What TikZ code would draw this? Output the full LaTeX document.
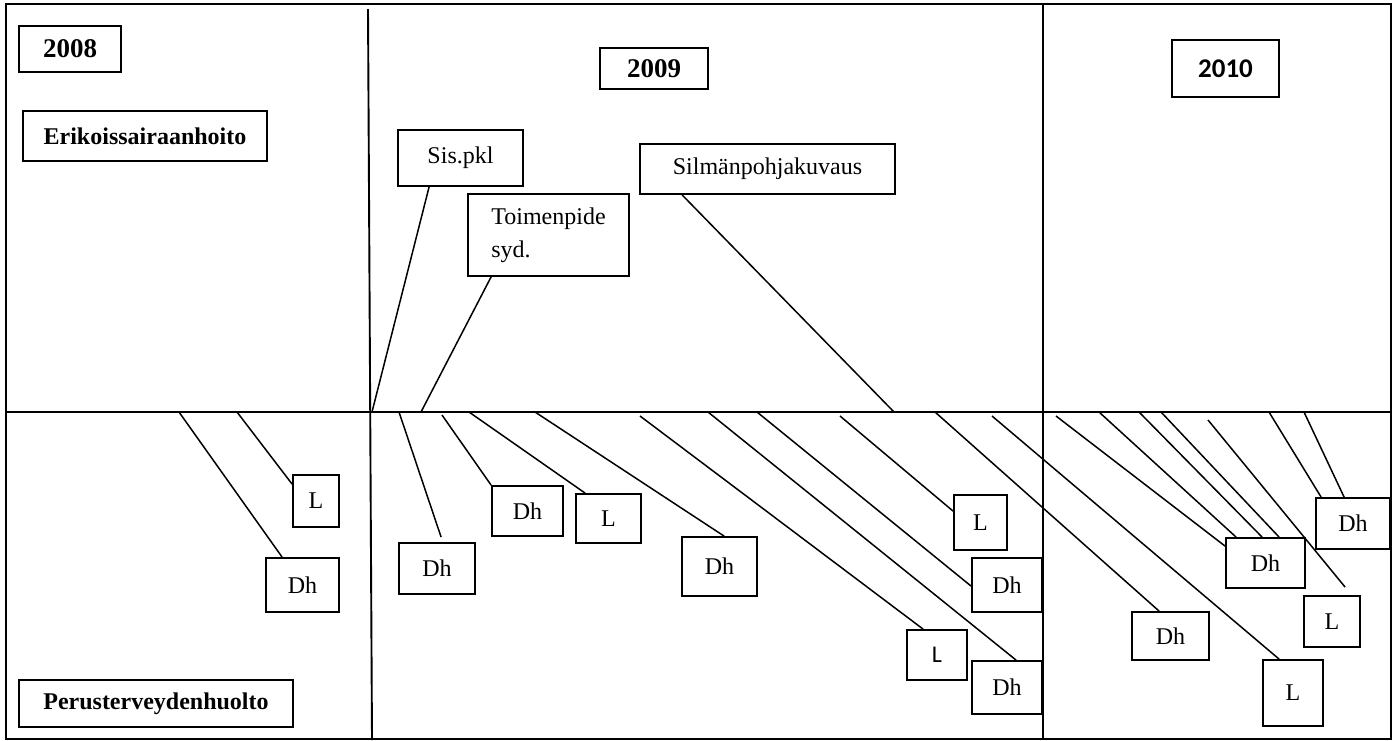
\documentclass[tikz,border=0pt]{standalone}
\usepackage{fontspec}
\setmainfont{Liberation Serif}
\newfontfamily\calib{Carlito}
\newcommand\bx[7][]{\node[box,minimum width={#5-#3},minimum height={#6-#4},#1] (#2) at ({(#3+#5)/2},{(#4+#6)/2}) {#7};}
\begin{document}
\begin{tikzpicture}[x=1pt,y=-1pt,line width=1.5pt,
  box/.style={draw,line width=1.8pt,inner sep=0pt,font=\fontsize{24}{33}\selectfont},
  yr/.style={font=\fontsize{27}{32}\selectfont\bfseries},
  yrc/.style={font=\fontsize{27}{32}\selectfont\calib\bfseries},
  hd/.style={font=\fontsize{24}{29}\selectfont\bfseries},
  cal/.style={font=\fontsize{24}{28}\selectfont\calib},
  link/.style={line width=1.5pt},
  frame/.style={line width=1.9pt}]
\useasboundingbox (0,0) rectangle (1400,740);
% frame and grid
\draw[frame] (6,4) rectangle (1391,739);
\draw[frame] (6,412) -- (1391,412);
\draw[frame] (368,9) -- (372,740);
\draw[frame] (1043,4) -- (1043,740);
% header boxes
\bx[yr]{y08}{19}{26}{121}{72}{2008}
\bx[yr]{y09}{600}{48}{708}{89}{2009}
\bx[yrc]{y10}{1172}{40}{1279}{97}{2010}
\bx[hd]{eri}{23}{111}{267}{161}{Erikoissairaanhoito}
\bx[hd]{per}{19}{680}{293}{727}{Perusterveydenhuolto}
\bx{sis}{398}{130}{523}{186}{Sis.pkl\hspace{16pt}}
\bx[align=left]{toi}{468}{194}{629}{276}{Toimenpide\\syd.}
\bx{sil}{640}{144}{895}{194}{Silmänpohjakuvaus\hspace{26pt}}
% lower boxes
\bx{a1}{293}{475}{339}{527}{L}
\bx{a2}{266}{558}{339}{612}{Dh}
\bx{b1}{399}{543}{475}{594}{Dh}
\bx{b2}{492}{486}{563}{536}{Dh}
\bx{b3}{576}{494}{641}{543}{L}
\bx{b4}{682}{537}{757}{596}{Dh}
\bx[cal]{b5}{907}{630}{967}{680}{L}
\bx{b6}{972}{661}{1042}{714}{Dh}
\bx{b7}{972}{558}{1042}{612}{Dh}
\bx{b8}{954}{495}{1007}{550}{L}
\bx{c1}{1132}{612}{1209}{660}{Dh}
\bx{c2}{1226}{538}{1305}{588}{Dh}
\bx{c3}{1316}{498}{1390}{549}{Dh}
\bx{c4}{1304}{596}{1360}{647}{L}
\bx{c5}{1263}{660}{1323}{726}{L}
% free ends on the axis
\coordinate (p01) at (237,412);
\coordinate (p02) at (179,412);
\coordinate (q1) at (399,412);
\coordinate (q2) at (442,415);
\coordinate (q3) at (469,412);
\coordinate (q4) at (535,412);
\coordinate (q5) at (640,416);
\coordinate (q6) at (708,412);
\coordinate (q7) at (757,412);
\coordinate (q8) at (840,416);
\coordinate (q9) at (935,412);
\coordinate (q10) at (992,416);
\coordinate (r1) at (1056,416);
\coordinate (r2) at (1099,412);
\coordinate (r3) at (1139,412);
\coordinate (r4) at (1161,412);
\coordinate (r5) at (1208,420);
\coordinate (r6) at (1269,412);
\coordinate (r7) at (1304,412);
\coordinate (s1) at (372,412);
\coordinate (s2) at (421,412);
\coordinate (s3) at (894,412);
% connectors
\draw[link] (p01) -- ([yshift=-10pt]a1.north west);
\draw[link] (p02) -- ([xshift=17pt]a2.north west);
\draw[link] (q1) -- ([xshift=43pt,yshift=5pt]b1.north west);
\draw[link] (q2) -- (b2.north west);
\draw[link] (q3) -- ([xshift=10pt]b3.north west);
\draw[link] (q4) -- ([xshift=43pt]b4.north west);
\draw[link] (q5) -- ([xshift=17pt]b5.north west);
\draw[link] (q6) -- ([xshift=45pt]b6.north west);
\draw[link] (q7) -- ([yshift=-29pt]b7.north west);
\draw[link] (q8) -- ([yshift=-17pt]b8.north west);
\draw[link] (q9) -- ([xshift=28pt]c1.north west);
\draw[link] (q10) -- ([xshift=17pt]c5.north west);
\draw[link] (r1) -- ([yshift=-9pt]c2.north west);
\draw[link] (r2) -- ([xshift=11pt]c2.north west);
\draw[link] (r3) -- ([xshift=37pt]c2.north west);
\draw[link] (r4) -- ([xshift=54pt]c2.north west);
\draw[link] (r5) -- ([xshift=42pt,yshift=8pt]c4.north west);
\draw[link] (r6) -- ([xshift=6pt]c3.north west);
\draw[link] (r7) -- ([xshift=29pt]c3.north west);
\draw[link] ([xshift=32pt]sis.south west) -- (s1);
\draw[link] ([xshift=24pt]toi.south west) -- (s2);
\draw[link] ([xshift=43pt]sil.south west) -- (s3);
\end{tikzpicture}
\end{document}
